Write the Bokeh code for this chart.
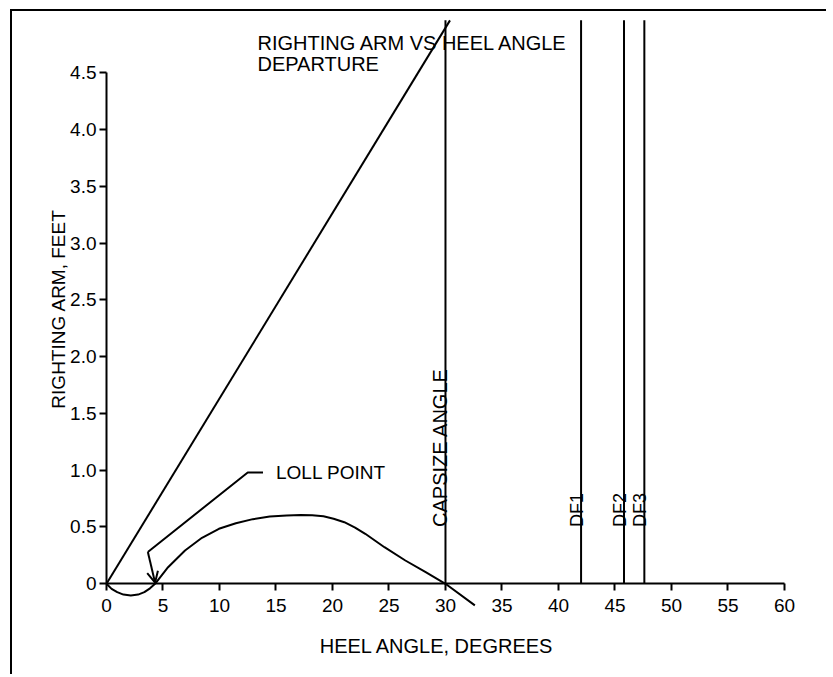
from bokeh.plotting import figure
from bokeh.models import (FixedTicker, Label, Arrow, OpenHead, Range1d, LinearAxis)
from bokeh.embed import file_html
from bokeh.resources import INLINE

# ---- data ----
heel_angle = [0, 0.45, 0.95, 1.5, 2.15, 2.8, 3.35, 3.85, 4.3, 5.45, 6.95, 8.45, 9.95, 11.45,
              12.95, 14.45, 15.95, 17.2, 18.2, 19.2, 20.1, 21.05, 22.0, 22.9, 24.6, 26.45, 28.25, 30.0, 32.6]
righting_arm = [0, -0.045, -0.074, -0.095, -0.103, -0.095, -0.074, -0.04, 0.0, 0.146, 0.293, 0.405, 0.484, 0.533,
                0.569, 0.592, 0.601, 0.606, 0.603, 0.595, 0.572, 0.542, 0.495, 0.44, 0.322, 0.205, 0.102, 0.0, -0.19]
departure_x = [0, 30.4]
departure_y = [0, 4.96]
capsize_angle = 30.0
df_angles = [42.0, 45.8, 47.6]
df_labels = ["DF1", "DF2", "DF3"]
vline_top = 4.96
loll_angle = 4.3
leader_x = [13.85, 12.5, 3.66]
leader_y = [0.98, 0.98, 0.28]
x_ticks = [0, 5, 10, 15, 20, 25, 30, 35, 40, 45, 50, 55, 60]
y_ticks = [0, 0.5, 1, 1.5, 2, 2.5, 3, 3.5, 4, 4.5]
y_tick_labels = ["0", "0.5", "1.0", "1.5", "2.0", "2.5", "3.0", "3.5", "4.0", "4.5"]
title_lines = ["RIGHTING ARM VS HEEL ANGLE", "DEPARTURE"]
x_title = "HEEL ANGLE, DEGREES"
y_title = "RIGHTING ARM, FEET"

FONT = "Liberation Sans"
BLACK = "#000000"

p = figure(frame_width=764, frame_height=651,
           x_range=Range1d(-6.195, 61.42), y_range=Range1d(-0.693, 5.038),
           output_backend="svg", toolbar_location=None,
           x_axis_location=None, y_axis_location=None,
           min_border_left=24, min_border_top=0, min_border_right=26, min_border_bottom=12)
p.styles = {"border-top": "2px solid black", "border-left": "2px solid black",
            "margin-left": "10px", "margin-top": "9px"}
p.outline_line_color = None
p.xgrid.visible = False
p.ygrid.visible = False
p.background_fill_color = "white"
p.border_fill_color = "white"


def style_axis(ax, tick_size):
    ax.axis_line_width = 2
    ax.axis_line_color = BLACK
    ax.major_tick_line_width = 2
    ax.major_tick_line_color = BLACK
    ax.major_tick_out = 7
    ax.major_tick_in = 0
    ax.minor_tick_out = 0
    ax.minor_tick_in = 0
    ax.major_label_text_font = FONT
    ax.major_label_text_font_size = tick_size
    ax.major_label_text_color = BLACK


xaxis = LinearAxis(fixed_location=0, bounds=(0, 60), ticker=FixedTicker(ticks=x_ticks))
style_axis(xaxis, "19px")
xaxis.major_label_standoff = 8
p.add_layout(xaxis, "below")

yaxis = LinearAxis(fixed_location=0, bounds=(0, 4.5), ticker=FixedTicker(ticks=y_ticks))
style_axis(yaxis, "19px")
yaxis.major_label_standoff = 3
yaxis.major_label_overrides = {(int(t) if t == int(t) else t): lab for t, lab in zip(y_ticks, y_tick_labels)}
p.add_layout(yaxis, "left")

# axis titles
p.add_layout(Label(x=29.25, y=-0.552, text=x_title, text_align="center", text_baseline="alphabetic",
                   text_font=FONT, text_font_size="20px", text_color=BLACK))
p.add_layout(Label(x=-4.29, y=2.42, text=y_title, angle=90, angle_units="deg",
                   text_align="center", text_baseline="alphabetic",
                   text_font=FONT, text_font_size="19px", text_color=BLACK))

# righting arm curve
p.line(heel_angle, righting_arm, line_color=BLACK, line_width=2, line_join="round")
# departure line
p.line(departure_x, departure_y, line_color=BLACK, line_width=2)
# capsize and DF vertical lines
vx = [capsize_angle] + df_angles
p.segment(x0=vx, y0=[0] * len(vx), x1=vx, y1=[vline_top] * len(vx), line_color=BLACK, line_width=2)

# labels on vertical lines
p.add_layout(Label(x=capsize_angle, y=0.5, text="CAPSIZE ANGLE", angle=90, angle_units="deg",
                   x_offset=-5, text_align="left", text_baseline="alphabetic",
                   text_font=FONT, text_font_size="20px", text_color=BLACK))
for xa, lab in zip(df_angles, df_labels):
    p.add_layout(Label(x=xa, y=0.5, text=lab, angle=90, angle_units="deg",
                       x_offset=-4, text_align="left", text_baseline="alphabetic",
                       text_font=FONT, text_font_size="18px", text_color=BLACK))

# loll point leader
p.line(leader_x, leader_y, line_color=BLACK, line_width=2)
p.add_layout(Arrow(x_start=leader_x[-1], y_start=leader_y[-1], x_end=loll_angle, y_end=0.01,
                   line_color=BLACK, line_width=2,
                   end=OpenHead(size=11, line_color=BLACK, line_width=2)))
p.add_layout(Label(x=leader_x[0], y=leader_y[0], text="LOLL POINT", x_offset=13,
                   text_align="left", text_baseline="middle",
                   text_font=FONT, text_font_size="19px", text_color=BLACK))

# title (two lines)
p.add_layout(Label(x=13.36, y=4.762, text=title_lines[0], text_align="left", text_baseline="alphabetic",
                   text_font=FONT, text_font_size="20px", text_color=BLACK))
p.add_layout(Label(x=13.36, y=4.577, text=title_lines[1], text_align="left", text_baseline="alphabetic",
                   text_font=FONT, text_font_size="20px", text_color=BLACK))

open("out.html", "w").write(file_html(p, INLINE))
